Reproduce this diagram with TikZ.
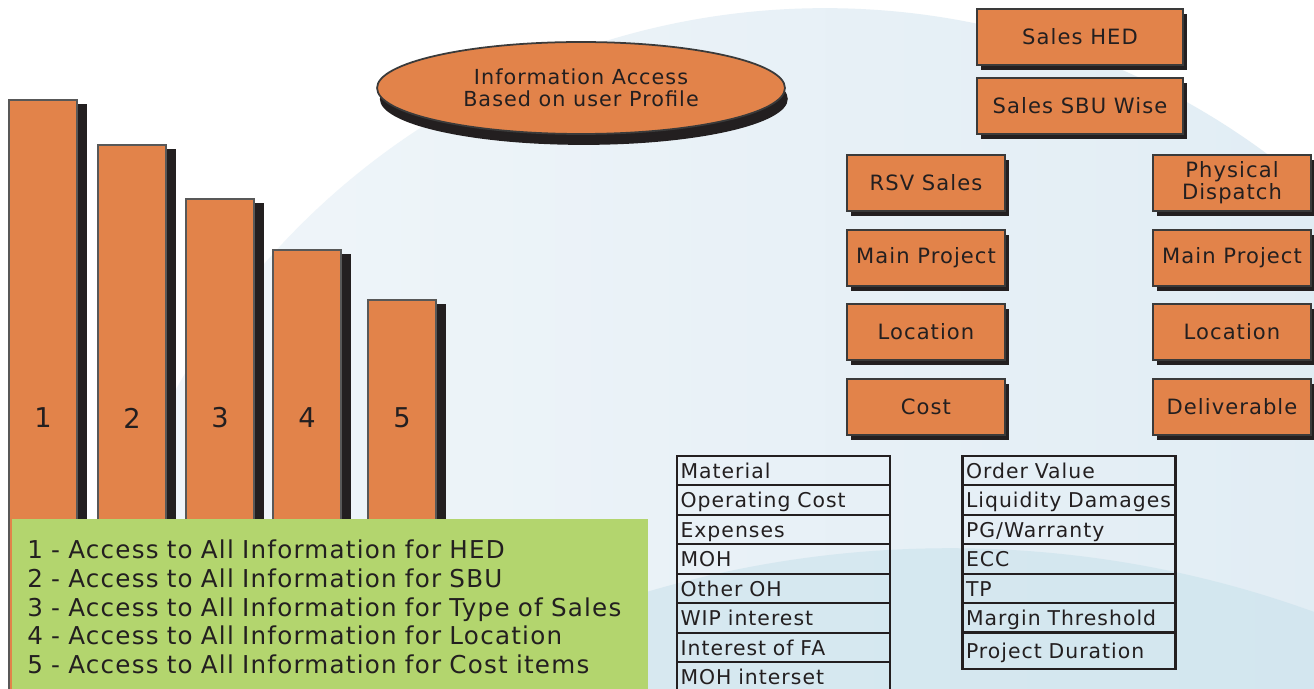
\documentclass[tikz,border=0pt]{standalone}
\usepackage{fontspec}
\setmainfont{DejaVu Sans}[LetterSpace=5]
\usetikzlibrary{shapes.geometric,shadows}

\definecolor{boxorange}{HTML}{E2834A}
\definecolor{boxline}{HTML}{3A3A3A}
\definecolor{shadowc}{HTML}{231F20}
\definecolor{legendgreen}{HTML}{B3D56E}
\definecolor{skyL}{HTML}{F1F6FA}
\definecolor{skyR}{HTML}{DEEBF3}
\definecolor{bandL}{HTML}{DCEBF2}
\definecolor{bandR}{HTML}{CEE4ED}
\definecolor{txt}{HTML}{231F20}

\tikzset{
  salesbox/.style={draw=boxline, line width=1.2pt, fill=boxorange, minimum width=3.16cm,
    minimum height=1.12cm, align=center, inner sep=1pt, text=txt,
    font=\fontsize{12}{12.5}\selectfont,
    drop shadow={opacity=1, fill=shadowc, shadow xshift=2.4pt, shadow yshift=-2.6pt}},
  bar/.style={draw=boxline!85, line width=0.9pt, fill=boxorange, minimum width=1.36cm,
    inner sep=0pt, outer sep=0pt,
    drop shadow={opacity=1, fill=shadowc, shadow xshift=5.7pt, shadow yshift=-2.3pt}},
  barnum/.style={font=\fontsize{15.5}{16}\selectfont, text=txt},
  accessoval/.style={ellipse, draw=boxline, line width=1pt, fill=boxorange, minimum width=8.16cm,
    minimum height=1.84cm, align=center, inner sep=0pt, text=txt,
    font=\fontsize{11.8}{12.6}\selectfont,
    drop shadow={opacity=1, fill=shadowc, shadow xshift=1.6pt, shadow yshift=-6.2pt}},
  legend/.style={fill=legendgreen, text width=12.12cm, inner xsep=0.3cm, minimum height=3.5cm,
    align=left, text=txt, font=\fontsize{14}{16.5}\selectfont},
  cell/.style={draw=shadowc, line width=1.3pt, minimum height=0.59cm, text width=4.12cm,
    text height=1.1em, text depth=0.2em,
    inner xsep=0.07cm, inner ysep=0pt, align=left, text=txt,
    font=\fontsize{11.6}{12}\selectfont},
}

\begin{document}
\begin{tikzpicture}[x=0.02cm,y=-0.02cm]
  \useasboundingbox (0,0) rectangle (1314,689);
  \fill[white] (0,0) rectangle (1314,689);
  % background swoosh
  \begin{scope}
    \clip (0,0) rectangle (1314,689);
    \shade[left color=skyL, right color=skyR] (825,751) circle [radius=14.86cm];
    \begin{scope}
      \clip (825,751) circle [radius=14.86cm];
      \shade[left color=bandL, right color=bandR] (950,1615) circle [radius=21.34cm];
    \end{scope}
  \end{scope}

  % access levels
  \foreach \i/\x/\t in {1/9/100, 2/98/145, 3/186/199, 4/273/250, 5/368/300}{
    \pgfmathsetmacro\h{(700-\t)*0.02}
    \node[bar, minimum height=\h cm, anchor=north west] (bar\i) at (\x,\t) {};
    \node[barnum] (num\i) at (bar\i.north |- 0,418) {\i};
  }
  \node[legend, anchor=north west] (legend) at (12,519) {%
    1 - Access to All Information for HED\\
    2 - Access to All Information for SBU\\
    3 - Access to All Information for Type of Sales\\
    4 - Access to All Information for Location\\
    5 - Access to All Information for Cost items};

  \node[accessoval] (access) at (581,88) {Information Access\\Based on user Profile};

  % sales hierarchy
  \node[salesbox, minimum width=4.12cm] (hed) at (1080,37) {Sales HED};
  \node[salesbox, minimum width=4.12cm] (sbu) at (1080,106) {Sales SBU Wise};
  \node[salesbox] (rsv) at (926,183) {RSV Sales};
  \node[salesbox] (projL) at (926,258) {Main Project};
  \node[salesbox] (locL) at (926,332) {Location};
  \node[salesbox] (cost) at (926,407) {Cost};
  \node[salesbox] (disp) at (1232,183) {Physical\\Dispatch};
  \node[salesbox] (projR) at (1232,258) {Main Project};
  \node[salesbox] (locR) at (1232,332) {Location};
  \node[salesbox] (deliv) at (1232,407) {Deliverable};

  % cost items and order items
  \foreach \txt [count=\k] in {Material, Operating Cost, Expenses, MOH, Other OH,
      WIP interest, Interest of FA, MOH interset}
    \node[cell] (costitem\k) at (783.5,{441+29.5*\k}) {\txt};
  \foreach \txt [count=\k] in {Order Value, Liquidity Damages, PG/Warranty, ECC, TP,
      Margin Threshold}
    \node[cell] (order\k) at (1069,{441+29.5*\k}) {\txt};
  \node[cell, minimum height=0.74cm] (order7) at (1069,650.5) {Project Duration};
\end{tikzpicture}
\end{document}
